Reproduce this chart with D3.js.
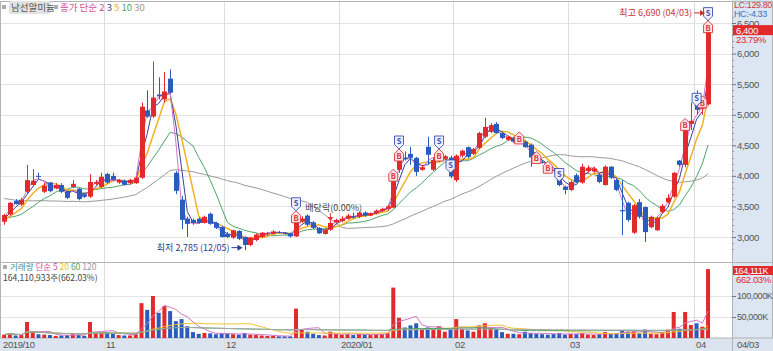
<!DOCTYPE html>
<html>
<head>
<meta charset="utf-8">
<script src="https://cdn.jsdelivr.net/npm/d3@7"></script>
<style>
  body { margin: 0; background: #fff; }
  svg { display: block; }
  text { font-family: "Noto Sans CJK KR", sans-serif; }
  .num { font-family: "Liberation Sans", Arial, sans-serif; letter-spacing: -0.4px; }
</style>
</head>
<body>
<div id="chart"></div>
<script>
// daily candles, 2019/10 .. 2020/04/03
const opens = [
  3250,3370,3590,3530,3740,3850,4000,3740,3890,3800,3850,3740,3820,3790,3700,3660,3870,3820,
  4030,4000,3890,3920,3880,3880,3970,5070,4970,5330,5250,5590,4050,3610,3300,3280,3300,3230,3380,3230,3165,
  3050,2990,3100,3000,2870,2950,3000,3040,3050,3080,3070,3060,3010,3250,3350,3240,3150,3050,3120,3240,
  3260,3300,3340,3330,3400,3350,3390,3430,3460,3480,4100,4300,4360,4295,4100,4475,4100,4260,4280,4300,
  3930,4330,4470,4360,4460,4640,4720,4850,4700,4590,4620,4550,4560,4510,4340,4230,4120,4100,3980,3820,
  3770,4010,3890,4080,4070,4020,3850,4150,3930,3440,3560,3070,3570,3490,3160,3110,3410,3570,3660,4250,4180,4850,
  5300,5100,5170
];
const highs = [
  3380,3570,3620,3640,4180,4110,4050,3890,3900,3880,3880,3760,3930,3800,3720,4030,3930,4050,
  4050,4050,3950,3940,3950,3990,5200,5400,5870,5610,5700,5740,4080,3670,3330,3300,3320,3350,3400,3250,3180,
  3080,3120,3110,3010,3000,3060,3080,3080,3110,3100,3080,3070,3300,3340,3370,3260,3160,3140,3260,3300,
  3340,3380,3400,3420,3420,3400,3450,3480,3520,4000,4350,4400,4475,4310,4180,4640,4300,4330,4340,4330,
  4350,4430,4480,4460,4720,4950,4860,4880,4720,4660,4640,4600,4580,4530,4360,4260,4150,4130,4000,3840,
  3920,4040,4200,4170,4150,4050,4170,4160,3950,3930,3580,3540,3620,3500,3350,3330,3540,3700,4060,4260,4850,5200,
  5400,5250,6690
];
const lows = [
  3200,3350,3530,3510,3700,3830,3950,3720,3730,3780,3720,3620,3800,3600,3640,3640,3850,3800,
  3870,3920,3870,3840,3860,3870,3950,4950,4950,5250,5200,5350,3700,3130,3000,3200,3220,3220,3200,3130,2990,
  2980,2970,2950,2785,2850,2930,2990,3030,3040,3060,3040,2990,3000,3230,3180,3130,3050,3040,3100,3230,
  3240,3280,3300,3310,3330,3340,3370,3410,3430,3470,4050,4250,4180,4000,4080,4180,4080,4230,4260,3960,
  3900,4300,4290,4340,4440,4620,4700,4690,4600,4570,4540,4520,4460,4150,4240,4200,4060,4050,3830,3700,
  3750,3880,3870,4050,4050,3880,3840,3950,3750,3030,3250,3050,3300,2920,3140,3100,3390,3550,3640,4150,4140,4750,
  5000,5000,5150
];
const closes = [
  3360,3560,3540,3610,3930,3920,3985,3840,3750,3850,3740,3640,3870,3620,3660,3900,3900,3985,
  3890,3940,3935,3855,3935,3970,5130,4970,5280,5300,5380,5360,3755,3280,3215,3230,3230,3330,3215,3150,3000,
  3000,3110,2970,2870,2990,3040,3070,3060,3090,3070,3050,3010,3290,3300,3200,3150,3060,3120,3230,3280,
  3300,3350,3320,3400,3350,3390,3430,3460,3500,3970,4300,4270,4295,4065,4140,4345,4260,4300,4320,3990,
  4330,4410,4310,4440,4700,4800,4830,4700,4620,4640,4560,4580,4470,4300,4260,4220,4100,4080,3850,3770,
  3900,3900,4150,4130,4120,3900,4150,3970,3770,3420,3280,3520,3330,3080,3330,3310,3510,3640,4050,4180,4800,4900,
  5080,5170,6400
];
// volume, thousand shares
const volumes = [
  8000,12000,6000,7000,38000,15000,9000,8000,7000,5000,6000,7000,9000,8000,5000,38000,12000,14000,
  14000,10000,7000,6000,6000,9000,83000,67000,100000,60000,76000,64000,40000,45000,28000,14000,10000,12000,11000,9000,12000,
  10000,9000,8000,12000,8000,7000,6000,5000,5000,4000,4000,4000,70000,20000,15000,10000,7000,6000,15000,10000,
  8000,9000,7000,10000,8000,7000,9000,10000,12000,120000,48000,25000,30000,35000,20000,25000,22000,28000,15000,20000,
  45000,22000,18000,15000,30000,35000,25000,22000,14000,10000,10000,9000,15000,12000,10000,9000,8000,10000,12000,8000,
  10000,9000,12000,8000,7000,9000,14000,10000,12000,18000,15000,16000,12000,20000,10000,9000,14000,20000,62000,22000,62000,31000,
  35000,27000,164111
];
// closes of the 29 sessions before the first candle (for the 30-day average)
const prevCloses = [3950,3980,3920,3900,3960,3880,3850,3900,3870,3820,3790,3760,3800,3740,3700,
  3720,3650,3600,3560,3480,3400,3350,3300,3280,3320,3260,3240,3290,3250];

const monthIdx = [0, 18, 39, 59, 79, 99, 121];
const monthLabels = ["2019/10", "11", "12", "2020/01", "02", "03", "04"];
const priceTicks = [3000, 3500, 4000, 4500, 5000, 5500, 6000, 6500];
const volTicks = [50000, 100000];
const maPeriods = [2, 3, 5, 10, 30];
const maColors = ["#d276c8", "#3b3f9a", "#f2b025", "#4fa46a", "#9a9a9a"];
const volMaPeriods = [5, 20, 60, 120];
const volMaColors = ["#d276c8", "#f2c230", "#4fa46a", "#a8a8a8"];
const buyIdx = [51, 68, 69, 76, 90, 93, 95, 119, 122, 123];
const sellIdx = [51, 69, 76, 78, 97, 121, 123];

const W = 773, H = 351;
const plotR = 732, priceBot = 262, volBot = 338;
const RED = "#e2292c", BLUE = "#2a5cc0";

const svg = d3.select("#chart").append("svg")
    .attr("width", W)
    .attr("height", H);

const x = d3.scaleBand()
    .domain(d3.range(closes.length))
    .range([1.3, 710.9])
    .paddingInner(0.3)
    .paddingOuter(0.15);
const cx = i => x(i) + x.bandwidth() / 2;
const step = x.step();

const y = d3.scaleLinear().domain([3000, 6500]).range([237, 23]);
const yv = d3.scaleLinear().domain([0, 100000]).range([338, 296]);

// panels
svg.append("rect").attr("x", plotR).attr("y", 0).attr("width", W - plotR).attr("height", volBot)
    .attr("fill", "#dbe6f2");
svg.append("rect").attr("x", 0).attr("y", volBot).attr("width", W).attr("height", H - volBot)
    .attr("fill", "#dbe4ef");

// grid
svg.append("g").selectAll("line").data(priceTicks).join("line")
    .attr("x1", 0).attr("x2", plotR)
    .attr("y1", d => Math.round(y(d)) + 0.5).attr("y2", d => Math.round(y(d)) + 0.5)
    .attr("stroke", "#e3e3e3");
svg.append("g").selectAll("line").data(volTicks).join("line")
    .attr("x1", 0).attr("x2", plotR)
    .attr("y1", d => Math.round(yv(d)) + 0.5).attr("y2", d => Math.round(yv(d)) + 0.5)
    .attr("stroke", "#e3e3e3");
svg.append("g").selectAll("line").data(monthIdx.slice(1)).join("line")
    .attr("x1", d => Math.round(cx(d) - step / 2) + 0.5).attr("x2", d => Math.round(cx(d) - step / 2) + 0.5)
    .attr("y1", 2).attr("y2", H)
    .attr("stroke", "#dcdcdc");

// borders
svg.append("rect").attr("x", 0.5).attr("y", 1.5).attr("width", W - 1).attr("height", volBot - 1.5)
    .attr("fill", "none").attr("stroke", "#b4b4b4");
svg.append("line").attr("x1", 0).attr("x2", W).attr("y1", priceBot + 0.5).attr("y2", priceBot + 0.5)
    .attr("stroke", "#b4b4b4");
svg.append("line").attr("x1", plotR + 0.5).attr("x2", plotR + 0.5).attr("y1", 1).attr("y2", H)
    .attr("stroke", "#b4b4b4");

svg.append("clipPath").attr("id", "pclip").append("rect")
    .attr("x", 0).attr("y", 2).attr("width", plotR).attr("height", priceBot - 2);
svg.append("clipPath").attr("id", "vclip").append("rect")
    .attr("x", 0).attr("y", priceBot + 1).attr("width", plotR).attr("height", volBot - priceBot - 1);

const data = closes.map((c, i) => ({
  i, o: opens[i], h: highs[i], l: lows[i], c, v: volumes[i], up: c >= opens[i]
}));

// volume bars
const vg = svg.append("g").attr("clip-path", "url(#vclip)");
vg.selectAll("rect").data(data).join("rect")
    .attr("x", d => x(d.i))
    .attr("width", x.bandwidth())
    .attr("y", d => yv(d.v))
    .attr("height", d => volBot - yv(d.v))
    .attr("fill", d => d.up ? RED : BLUE);

// volume moving averages (over the sessions shown)
volMaPeriods.forEach((p, k) => {
  const vals = volumes.map((v, i) => d3.mean(volumes.slice(Math.max(0, i - p + 1), i + 1)));
  vg.append("path")
      .datum(vals)
      .attr("fill", "none")
      .attr("stroke", volMaColors[k])
      .attr("stroke-width", 1)
      .attr("d", d3.line().x((d, i) => cx(i)).y(d => yv(d)));
});

// price moving averages
const allCloses = prevCloses.concat(closes);
const off = prevCloses.length;
const pg = svg.append("g").attr("clip-path", "url(#pclip)");
maPeriods.slice().reverse().forEach(p => {
  const k = maPeriods.indexOf(p);
  const vals = closes.map((c, i) => d3.mean(allCloses.slice(Math.max(0, off + i - p + 1), off + i + 1)));
  pg.append("path")
      .datum(vals)
      .attr("fill", "none")
      .attr("stroke", maColors[k])
      .attr("stroke-width", p === 5 ? 1.5 : 1)
      .attr("d", d3.line().x((d, i) => cx(i)).y(d => y(d)));
});

// candles
const candle = pg.selectAll(".candle").data(data).join("g").attr("class", "candle");
candle.append("line")
    .attr("x1", d => Math.round(cx(d.i)) + 0.5).attr("x2", d => Math.round(cx(d.i)) + 0.5)
    .attr("y1", d => y(d.h)).attr("y2", d => y(d.l))
    .attr("stroke", d => d.up ? RED : BLUE);
candle.append("rect")
    .attr("x", d => Math.round(x(d.i)))
    .attr("width", Math.round(x.bandwidth()) + 1)
    .attr("y", d => y(Math.max(d.o, d.c)))
    .attr("height", d => Math.max(1, Math.abs(y(d.o) - y(d.c))))
    .attr("fill", d => d.up ? RED : BLUE);

// buy / sell signal badges
function badge(i, kind) {
  const both = buyIdx.includes(i) && sellIdx.includes(i);
  const yc = kind === "B" ? y(closes[i]) - 2 : y(closes[i]) - (both ? 15 : 10);
  const g = pg.append("g").attr("transform", `translate(${cx(i)},${yc})`);
  const col = kind === "B" ? "#d8343a" : "#3a4fb0";
  const shape = kind === "B"
    ? "M-4.5,-2 L0,-6.5 L4.5,-2 L4.5,5.5 L-4.5,5.5 Z"
    : "M-4.5,-6.5 L4.5,-6.5 L4.5,2 L0,6.5 L-4.5,2 Z";
  g.append("path").attr("d", shape)
      .attr("fill", kind === "B" ? "#fde4e4" : "#eef0ff")
      .attr("stroke", col).attr("stroke-width", 0.9);
  g.append("text").text(kind)
      .attr("y", kind === "B" ? 3.5 : 1.5)
      .attr("text-anchor", "middle")
      .attr("font-size", 7.5).attr("font-weight", "bold")
      .attr("fill", col);
}
buyIdx.forEach(i => badge(i, "B"));
sellIdx.forEach(i => badge(i, "S"));

// high / low / ex-dividend notes
const hiI = d3.maxIndex(highs), loI = d3.minIndex(lows);
function note(text, color, ty, ax) {
  svg.append("text").text(text).attr("x", ax - 13).attr("y", ty)
      .attr("text-anchor", "end")
      .attr("font-size", 9).attr("fill", color);
  svg.append("line").attr("x1", ax - 11).attr("x2", ax - 2).attr("y1", ty - 3.5).attr("y2", ty - 3.5)
      .attr("stroke", color);
  svg.append("path").attr("d", `M${ax - 5},${ty - 6.5} L${ax},${ty - 3.5} L${ax - 5},${ty - 0.5}Z`).attr("fill", color);
}
note(`최고 ${d3.format(",")(highs[hiI])} (04/03)`, "#c83236", y(highs[hiI]) + 5, cx(hiI) - 3);
note(`최저 ${d3.format(",")(lows[loI])} (12/05)`, "#2c3a8c", y(lows[loI]) + 1, cx(loI) - 2);

const exDiv = 57;
svg.append("text").text("배당락(0.00%)").attr("x", cx(exDiv) - 25).attr("y", y(highs[exDiv]) - 10)
    .attr("font-size", 9).attr("fill", "#444");
svg.append("line").attr("x1", cx(exDiv)).attr("x2", cx(exDiv))
    .attr("y1", y(highs[exDiv]) - 8).attr("y2", y(highs[exDiv]) - 2).attr("stroke", "#d8343a");
svg.append("path")
    .attr("d", `M${cx(exDiv) - 3},${y(highs[exDiv]) - 4} L${cx(exDiv) + 3},${y(highs[exDiv]) - 4} L${cx(exDiv)},${y(highs[exDiv])}Z`)
    .attr("fill", "#d8343a");

// right price axis
const ax = svg.append("g").attr("transform", `translate(${plotR},0)`)
    .call(d3.axisRight(y).tickValues(priceTicks).tickFormat(d3.format(",")).tickSize(4).tickPadding(1));
ax.select(".domain").remove();
ax.selectAll("line").attr("stroke", "#777");
ax.selectAll("text").attr("class", "num").attr("font-size", 9.5).attr("fill", "#555");
svg.append("g").selectAll("line").data(d3.range(2800, 6700, 100).filter(v => v % 500))
    .join("line")
    .attr("x1", plotR).attr("x2", plotR + 2)
    .attr("y1", d => Math.round(y(d)) + 0.5).attr("y2", d => Math.round(y(d)) + 0.5)
    .attr("stroke", "#999");

// right volume axis
const vax = svg.append("g").attr("transform", `translate(${plotR},0)`)
    .call(d3.axisRight(yv).tickValues(volTicks).tickFormat(d => d3.format(",")(d) + "K").tickSize(4).tickPadding(1));
vax.select(".domain").remove();
vax.selectAll("line").attr("stroke", "#777");
vax.selectAll("text").attr("class", "num").attr("font-size", 9).attr("fill", "#555");

// last value tags
const last = closes.length - 1;
const chg = (closes[last] / closes[last - 1] - 1) * 100;
svg.append("rect").attr("x", plotR + 1).attr("y", y(closes[last]) - 4).attr("width", 40).attr("height", 10).attr("fill", "#e2292c");
svg.append("text").attr("class", "num").text(d3.format(",")(closes[last])).attr("x", plotR + 4).attr("y", y(closes[last]) + 5)
    .attr("font-size", 9.5).attr("fill", "#fff");
svg.append("text").attr("class", "num").text(chg.toFixed(2) + "%").attr("x", plotR + 4).attr("y", y(closes[last]) + 14)
    .attr("font-size", 9.5).attr("fill", "#e2292c");

svg.append("rect").attr("x", plotR + 1).attr("y", 266).attr("width", 40).attr("height", 9).attr("fill", "#e2292c");
svg.append("text").attr("class", "num").text(d3.format(",")(volumes[last]) + "K").attr("x", plotR + 2).attr("y", 274)
    .attr("font-size", 9).attr("fill", "#fff");
svg.append("text").attr("class", "num").text("662.03%").attr("x", plotR + 4).attr("y", 283)
    .attr("font-size", 9.5).attr("fill", "#e2292c");

svg.append("text").attr("class", "num").text("LC:129.80").attr("x", plotR + 2).attr("y", 8).attr("font-size", 9).attr("fill", "#d03a3a");
svg.append("text").attr("class", "num").text("HC:-4.33").attr("x", plotR + 2).attr("y", 17).attr("font-size", 9).attr("fill", "#3a74c4");

// bottom month labels
svg.append("g").selectAll("text").data(monthIdx).join("text")
    .attr("class", "num")
    .text((d, k) => monthLabels[k])
    .attr("x", d => Math.round(cx(d) - step / 2) + 2)
    .attr("y", 348)
    .attr("font-size", 9.5).attr("fill", "#555");
svg.append("text").attr("class", "num").text("04/03").attr("x", plotR + 5).attr("y", 348).attr("font-size", 9.5).attr("fill", "#555");

// legends
function legend(parts, yy, x0, fs) {
  const t = svg.append("text").attr("x", x0).attr("y", yy).attr("font-size", fs);
  parts.forEach(([s, c]) => t.append("tspan").text(s).attr("fill", c));
}
svg.append("rect").attr("x", 2).attr("y", 5).attr("width", 4).attr("height", 4).attr("fill", "#aaa");
svg.append("rect").attr("x", 9).attr("y", 1).attr("width", 42).attr("height", 13).attr("rx", 2).attr("fill", "#e2e2e2");
svg.append("text").text("남선알미늄").attr("x", 11).attr("y", 11).attr("font-size", 9.5).attr("fill", "#555");
svg.append("rect").attr("x", 54).attr("y", 5).attr("width", 4).attr("height", 4).attr("fill", "#aaa");
legend([["종가 단순 2 ", "#d0509c"], ["3 ", "#3b3f9a"], ["5 ", "#e8b030"], ["10 ", "#4fa46a"], ["30", "#999"]], 11, 60, 9.5);

svg.append("rect").attr("x", 3).attr("y", 265).attr("width", 4).attr("height", 4).attr("fill", "#aaa");
legend([["거래량 ", "#3a9aa0"], ["단순 5 ", "#d0509c"], ["20 ", "#e8c030"], ["60 ", "#4fa46a"], ["120", "#999"]], 270, 10, 8.5);
svg.append("text").text("164,110,933주(662.03%)").attr("x", 3).attr("y", 281).attr("font-size", 8.5).attr("fill", "#444");
</script>
</body>
</html>
